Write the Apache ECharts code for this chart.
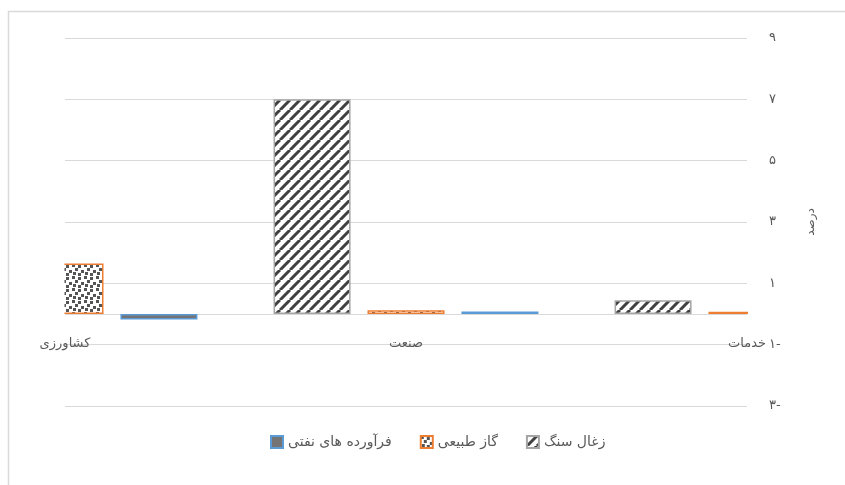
<!DOCTYPE html>
<html>
<head>
<meta charset="utf-8">
<script src="https://cdn.jsdelivr.net/npm/echarts@6/dist/echarts.min.js"></script>
<style>
  html, body { margin: 0; padding: 0; background: #fff; }
  #chart { width: 845px; height: 485px; }
</style>
</head>
<body>
<div id="chart"></div>
<script>
const categories = ["کشاورزی", "صنعت", "خدمات"];
// bars that fall outside the plot area in the picture are left empty
const coalValues = [null, 7.0, 0.45];
const gasValues = [1.65, 0.12, 0.07];
const oilValues = [-0.18, 0.08, null];
const seriesNames = ["زغال سنگ", "گاز طبیعی", "فرآورده های نفتی"];
const yTicks = { min: -3, max: 9, step: 2 };

const faDigits = "۰۱۲۳۴۵۶۷۸۹";
function toPersian(value) {
    const n = Math.abs(value);
    const s = String(n).replace(/[0-9]/g, d => faDigits[Number(d)]);
    return value < 0 ? s + "-" : s;
}

// wide upward diagonal, like the Excel fill
function stripePattern() {
    const c = document.createElement("canvas");
    c.width = 10;
    c.height = 10;
    const g = c.getContext("2d");
    g.fillStyle = "#ffffff";
    g.fillRect(0, 0, 10, 10);
    g.strokeStyle = "#404040";
    g.lineWidth = 3;
    g.beginPath();
    for (let k = -10; k <= 20; k += 10) {
        g.moveTo(k, 10);
        g.lineTo(k + 10, 0);
    }
    g.stroke();
    return c;
}

// large confetti
function confettiPattern() {
    const c = document.createElement("canvas");
    c.width = 12;
    c.height = 12;
    const g = c.getContext("2d");
    g.fillStyle = "#ffffff";
    g.fillRect(0, 0, 12, 12);
    g.fillStyle = "#555555";
    [[0, 0], [6, 1], [3, 4], [9, 6], [1, 8], [6, 9]].forEach(p => g.fillRect(p[0], p[1], 3, 3));
    return c;
}

const chart = echarts.init(document.getElementById("chart"), null, { renderer: "canvas" });
const labelColor = "#595959";
const fontFamily = "'DejaVu Sans', 'Noto Sans', sans-serif";

chart.setOption({
    animation: false,
    backgroundColor: "#ffffff",
    textStyle: { fontFamily: fontFamily },
    graphic: [
        {
            type: "rect",
            shape: { x: 8.5, y: 11.5, width: 900, height: 600 },
            style: { fill: "none", stroke: "#d9d9d9", lineWidth: 1.5 },
            silent: true,
            z: 0
        },
        // bars on a boundaryGap:false axis are not clipped by echarts, mask the overflow
        {
            type: "rect",
            shape: { x: 10, y: 30, width: 54.5, height: 300 },
            style: { fill: "#ffffff" },
            silent: true,
            z: 50
        },
        {
            type: "rect",
            shape: { x: 748, y: 298, width: 60, height: 30 },
            style: { fill: "#ffffff" },
            silent: true,
            z: 50
        }
    ],
    grid: {
        left: 65,
        right: 98,
        top: 38,
        bottom: 79
    },
    legend: {
        bottom: 31,
        left: 265,
        icon: "rect",
        itemWidth: 12,
        itemHeight: 12,
        itemGap: 28,
        data: [seriesNames[2], seriesNames[1], seriesNames[0]],
        textStyle: { color: labelColor, fontSize: 14, fontFamily: fontFamily }
    },
    xAxis: {
        type: "category",
        data: categories,
        boundaryGap: false,
        offset: -85,
        axisLine: { show: false, onZero: false },
        axisTick: { show: false },
        axisLabel: { color: labelColor, fontSize: 13, margin: 16, interval: 0 },
        splitLine: { show: false }
    },
    yAxis: {
        type: "value",
        position: "right",
        min: yTicks.min,
        max: yTicks.max,
        interval: yTicks.step,
        name: "درصد",
        nameLocation: "middle",
        nameRotate: 90,
        nameGap: 58,
        nameTextStyle: { color: labelColor, fontSize: 12 },
        axisLine: { show: false },
        axisTick: { show: false },
        axisLabel: {
            color: labelColor,
            fontSize: 13,
            margin: 22,
            formatter: v => toPersian(v)
        },
        splitLine: { lineStyle: { color: "#d9d9d9", width: 1 } }
    },
    series: [
        {
            name: seriesNames[0],
            type: "bar",
            data: coalValues,
            barWidth: 77,
            barGap: "22%",
            itemStyle: {
                color: { image: stripePattern(), repeat: "repeat" },
                borderColor: "#a5a5a5",
                borderWidth: 1.5
            },
            markLine: {
                silent: true,
                symbol: "none",
                label: { show: false },
                lineStyle: { color: "#d9d9d9", width: 1, type: "solid" },
                z: 1,
                data: [{ yAxis: 0 }]
            }
        },
        {
            name: seriesNames[1],
            type: "bar",
            data: gasValues,
            barWidth: 77,
            barGap: "22%",
            itemStyle: {
                color: { image: confettiPattern(), repeat: "repeat" },
                borderColor: "#ed7d31",
                borderWidth: 1.5
            }
        },
        {
            name: seriesNames[2],
            type: "bar",
            data: oilValues,
            barWidth: 77,
            barGap: "22%",
            itemStyle: {
                color: "#747474",
                borderColor: "#5b9bd5",
                borderWidth: 1.5
            }
        }
    ]
});
</script>
</body>
</html>
